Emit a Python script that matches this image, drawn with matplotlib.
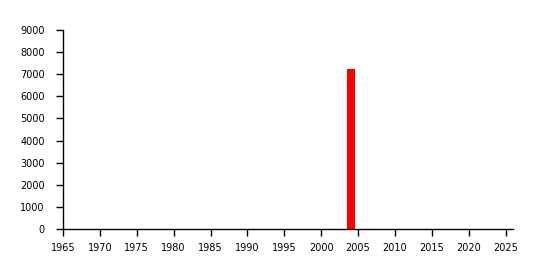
import matplotlib
matplotlib.use("Agg")
import matplotlib.pyplot as plt

# Data
years = [2004]
values = [7250]
x_ticks = list(range(1965, 2030, 5))
y_ticks = list(range(0, 10000, 1000))

fig = plt.figure(figsize=(5.41, 2.70), dpi=100)
ax = fig.add_axes([63 / 541, 1 - 229 / 270, 450 / 541, 199 / 270])

ax.bar(years, values, width=1.1, color="#ff0000", align="center")

ax.set_xlim(1965, 2026)
ax.set_ylim(0, 9000)
ax.set_xticks(x_ticks)
ax.set_yticks(y_ticks)

for side in ("top", "right"):
    ax.spines[side].set_visible(False)
for side in ("left", "bottom"):
    ax.spines[side].set_linewidth(1.0)
    ax.spines[side].set_color("black")

ax.tick_params(axis="both", length=5, width=1, labelsize=7)
ax.tick_params(axis="y", pad=8)
ax.tick_params(axis="x", pad=5)
for lbl in ax.get_xticklabels() + ax.get_yticklabels():
    lbl.set_family("DejaVu Sans")

fig.savefig("out.png", dpi=100)
